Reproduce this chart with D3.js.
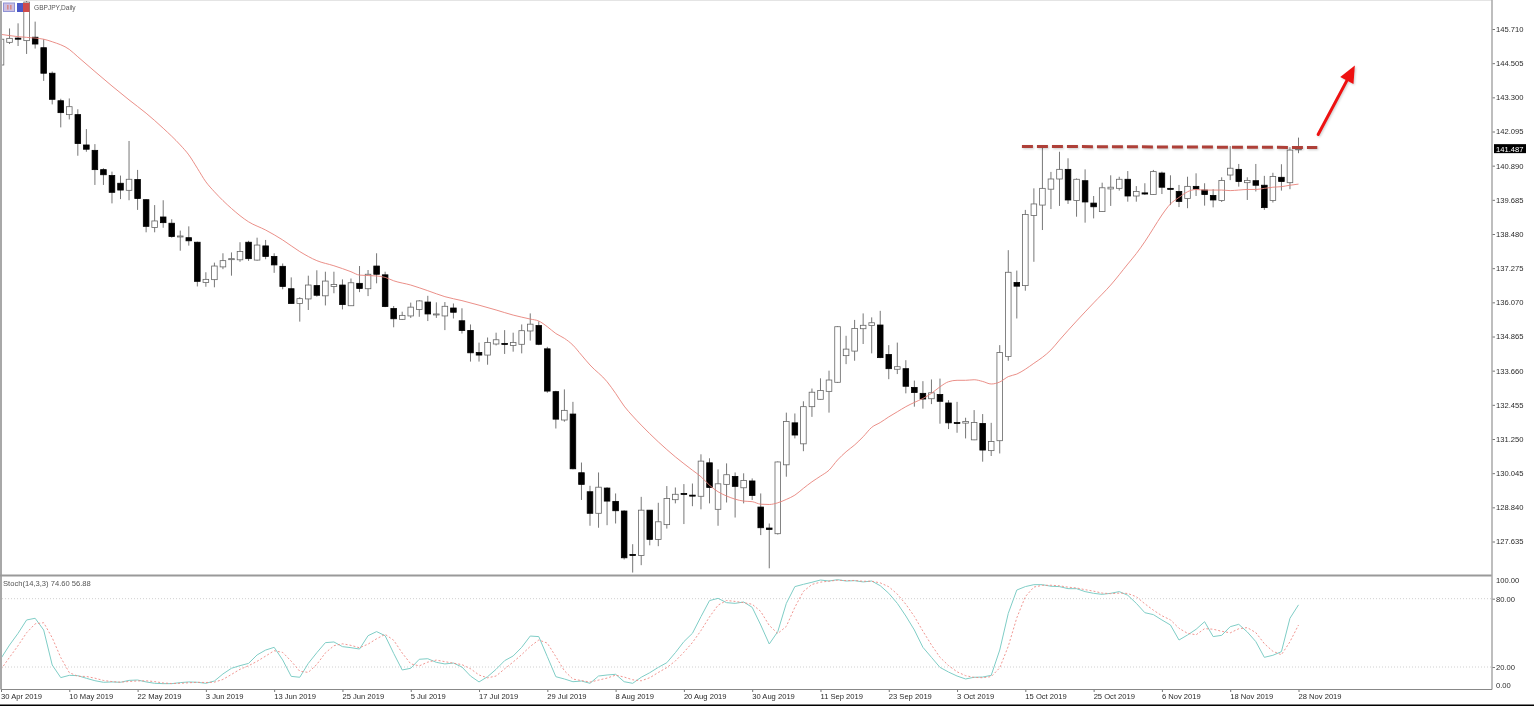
<!DOCTYPE html>
<html>
<head>
<meta charset="utf-8">
<title>GBPJPY,Daily</title>
<script src="https://cdn.jsdelivr.net/npm/d3@7"></script>
<style>
    html, body { margin: 0; padding: 0; background: #fff; overflow: hidden; }
    svg { display: block; filter: blur(0.35px); }
    text { font-family: "Liberation Sans", sans-serif; font-size: 7.6px; fill: #2a2a2a; }
</style>
</head>
<body>
<div id="chart"></div>
<script>
// Candles, one value per bar
const highs = [
    145.35,145.73,145.91,146.90,145.97,145.35,144.21,143.25,143.26,142.88,
    142.18,141.65,140.80,140.68,140.54,141.76,140.74,139.71,139.50,139.67,
    139.00,138.60,138.75,138.21,137.13,137.47,137.80,137.83,138.19,138.24,
    138.35,138.27,137.80,137.44,136.95,136.25,137.01,137.20,137.15,137.15,
    136.88,136.91,137.35,137.21,137.80,137.15,135.94,135.74,136.06,136.15,
    136.30,136.07,136.08,136.03,135.86,135.29,134.65,134.83,135.00,135.09,
    135.00,135.29,135.68,135.40,134.50,132.95,133.00,132.56,130.42,129.60,
    130.07,129.55,129.33,128.74,127.54,129.21,128.74,129.00,129.59,129.54,
    129.66,129.68,130.71,130.57,130.18,130.39,130.07,130.04,129.86,129.33,
    128.27,130.46,132.18,132.15,132.58,133.03,133.39,133.66,135.23,134.89,
    135.45,135.68,135.54,135.77,134.56,134.65,134.03,133.31,133.29,133.35,
    133.38,132.62,132.56,132.00,132.27,132.13,131.82,134.56,137.91,137.19,
    139.33,140.09,141.58,140.67,141.38,141.15,140.44,140.76,139.82,140.29,
    140.55,140.50,140.70,140.17,140.27,140.74,140.68,140.55,140.21,140.50,
    140.62,140.27,140.06,140.48,141.58,140.95,140.48,140.95,140.53,140.64,
    140.94,141.54,141.88
];
const lows = [
    144.44,145.18,145.11,144.83,145.02,143.88,143.05,142.24,142.52,141.24,
    141.38,140.21,140.21,139.56,139.71,139.67,139.33,138.54,138.54,138.70,
    138.35,137.89,138.07,136.63,136.62,136.60,137.24,137.01,137.50,137.53,
    137.54,137.59,137.11,136.53,136.03,135.39,135.80,136.27,135.96,136.39,
    135.82,135.94,136.43,136.29,136.74,135.90,135.19,135.45,135.52,135.56,
    135.41,135.52,135.09,135.50,134.97,133.98,133.98,133.87,134.55,134.25,
    134.33,134.27,134.72,134.56,132.88,131.62,131.86,130.18,129.10,128.19,
    128.12,128.21,128.27,127.00,126.54,126.80,127.50,127.47,128.09,128.98,
    128.25,128.88,128.77,128.98,128.19,129.01,128.48,128.98,129.10,127.86,
    126.69,127.88,129.92,131.27,130.82,132.03,132.64,132.18,133.23,133.89,
    134.01,134.60,134.27,134.10,133.36,133.54,132.86,132.39,132.32,132.48,
    131.79,131.60,131.47,131.27,131.21,130.45,130.65,130.74,134.01,135.50,
    136.48,137.50,138.62,139.36,139.47,139.54,139.09,138.88,139.03,139.26,
    139.47,140.01,139.62,139.62,139.86,139.86,139.89,139.50,139.43,139.39,
    139.82,139.48,139.42,139.61,140.38,140.15,139.68,139.98,139.33,139.59,
    140.01,140.06,141.33
];
const opens = [
    144.44,145.24,145.39,145.30,145.42,145.05,144.15,143.18,142.69,142.69,
    141.62,141.43,140.75,140.54,140.27,140.02,140.40,139.69,138.71,139.08,
    138.86,138.39,138.35,138.19,136.77,136.87,137.32,137.59,137.57,138.19,
    137.56,138.06,137.69,137.34,136.55,136.03,136.19,136.66,136.30,136.63,
    136.68,135.95,136.74,136.55,137.35,137.04,135.85,135.47,135.59,135.82,
    136.08,135.63,135.59,135.87,135.42,135.08,134.30,134.21,134.60,134.62,
    134.55,134.59,135.06,135.25,134.43,132.92,131.92,132.13,130.06,129.39,
    128.63,129.52,129.05,128.71,127.18,127.14,128.74,127.71,128.23,129.11,
    129.33,129.27,129.23,130.41,128.77,129.65,129.93,129.53,129.77,128.85,
    128.11,127.91,130.34,131.82,131.08,132.39,132.65,132.93,133.25,134.19,
    134.35,135.14,135.25,135.27,134.23,133.71,133.73,133.07,132.86,132.67,
    132.82,132.52,131.83,131.81,131.22,131.80,130.84,131.19,134.16,136.77,
    136.66,139.13,139.50,140.06,140.42,140.76,139.66,140.36,139.57,139.27,
    140.07,140.09,140.41,139.82,139.93,139.87,140.63,140.09,139.98,139.73,
    140.16,140.03,139.84,139.66,140.56,140.76,140.29,140.36,140.20,139.66,
    140.48,140.29,141.45
];
const closes = [
    145.35,145.38,145.35,146.66,145.18,144.15,143.23,142.76,142.97,141.67,
    141.47,140.75,140.57,139.95,140.03,140.41,139.73,138.75,138.94,138.88,
    138.39,138.41,138.24,136.81,136.88,137.35,137.54,137.61,137.86,137.61,
    138.09,137.69,137.39,136.63,136.03,136.20,136.68,136.32,136.82,136.70,
    135.99,136.76,136.56,137.06,137.06,135.92,135.49,135.61,135.90,136.12,
    135.66,135.66,135.93,135.72,135.08,134.29,134.21,134.65,134.75,134.59,
    134.65,135.07,135.30,134.59,132.94,131.95,132.26,130.20,129.65,128.63,
    129.55,129.06,128.72,127.06,127.14,128.74,127.71,128.33,129.15,129.30,
    129.30,129.24,130.47,129.54,129.67,129.99,129.58,129.79,129.26,128.12,
    128.06,130.44,131.87,131.39,132.39,132.90,132.96,133.33,135.21,134.42,
    135.15,135.26,135.35,134.12,133.73,133.80,133.11,132.89,132.66,132.88,
    132.58,131.82,131.80,131.87,131.83,130.86,131.16,134.30,137.13,136.64,
    139.17,139.54,140.09,140.42,140.76,139.68,140.41,139.61,139.44,140.11,
    140.13,140.41,139.82,139.98,139.89,140.68,140.13,140.07,139.63,140.16,
    140.07,139.87,139.68,140.37,140.80,140.33,140.37,140.20,139.41,140.51,
    140.33,141.44,141.487
];

// Moving average, read at the bars where the curve is easy to read
const maBars = [
    0,2,4,5,6,8,9,11,13,15,17,19,21,22,23,24,25,27,29,31,33,35,37,39,41,42,44,
    45,46,48,50,52,54,56,58,60,62,63,64,65,66,67,68,69,71,72,73,74,75,77,79,81,82,83,84,85,87,88,89,90,91,
    92,93,94,95,96,97,98,99,100,101,102,103,104,105,106,107,108,109,110,111,112,113,114,115,116,117,118,119,120,121,122,123,124,
    126,128,130,132,133,134,135,136,137,138,139,140,141,142,143,144,145,146,147,148,149,150,151,152
];
const maValues = [
    145.52,145.44,145.39,145.35,145.26,144.99,144.73,144.21,143.70,143.21,142.74,142.21,141.62,141.27,140.80,140.32,139.97,139.38,138.91,138.62,138.27,137.86,137.54,137.36,137.15,137.03,137.00,
    136.95,136.83,136.68,136.48,136.27,136.13,135.97,135.80,135.62,135.48,135.41,135.21,134.97,134.80,134.56,134.21,133.86,133.27,132.86,132.41,132.06,131.74,131.15,130.62,130.15,129.92,129.62,129.39,129.24,129.06,129.04,128.95,128.94,129.00,
    129.12,129.27,129.51,129.74,129.94,130.15,130.51,130.80,131.04,131.33,131.66,131.83,132.03,132.21,132.39,132.54,132.68,132.86,133.09,133.27,133.32,133.32,133.34,133.28,133.19,133.26,133.45,133.54,133.71,133.92,134.13,134.39,134.74,
    135.41,136.05,136.68,137.42,137.79,138.21,138.68,139.15,139.54,139.77,139.97,140.05,140.03,140.03,140.03,140.01,140.03,140.05,140.05,140.09,140.13,140.15,140.20,140.24
];

// Stochastic main and signal lines
const stochMain = [
    27.6,39.3,49.6,61.3,62.8,52.5,21.8,10.7,12.7,12.4,10.1,8.0,6.6,6.9,6.6,8.3,8.6,6.9,5.7,5.4,
    5.4,6.3,6.9,6.6,5.7,7.7,13.9,18.9,21.2,23.2,30.6,34.9,37.3,26.2,11.8,11.0,23.2,32.6,41.4,42.0,
    37.9,37.0,35.8,47.5,51.1,47.5,32.0,17.4,18.9,26.8,27.3,24.1,22.7,23.5,20.0,12.1,6.9,11.5,18.0,
    25.6,29.7,37.3,47.2,46.7,29.1,11.5,9.5,7.1,7.7,5.7,12.1,13.0,13.6,7.1,5.7,11.0,15.0,19.7,23.8,
    32.6,42.3,49.6,64.2,78.3,80.3,76.5,75.9,77.1,72.4,56.9,40.2,51.1,75.9,90.6,92.6,94.4,96.4,95.5,96.7,
    95.5,95.8,94.7,95.5,91.4,84.7,75.9,64.8,52.5,37.3,28.5,19.7,15.6,12.1,9.5,11.0,11.2,12.7,34.9,
    67.1,87.6,90.6,92.3,92.3,90.9,90.6,88.8,88.8,86.2,84.7,83.8,84.7,86.2,83.0,75.9,67.7,66.0,61.3,56.9,
    43.7,48.1,53.1,59.8,46.7,47.8,55.4,57.5,50.8,42.3,28.5,30.3,33.5,62.8,74.6
];
const stochSignal = [
    18.0,28.5,38.8,50.1,57.9,58.9,45.7,28.3,15.1,11.9,11.7,10.2,8.2,7.2,6.7,7.3,7.8,7.9,7.2,6.0,
    5.5,5.7,6.2,6.6,6.4,6.7,9.1,13.5,18.0,21.1,25.0,29.6,34.3,32.8,25.1,16.3,15.3,22.3,32.4,38.7,
    40.4,39.0,36.9,40.1,44.8,48.7,43.5,32.3,22.8,21.0,24.3,26.1,24.7,23.4,22.1,18.5,13.0,10.5,12.1,
    18.4,24.4,30.9,38.1,43.7,41.0,29.1,16.7,9.4,8.1,6.8,8.5,10.3,12.9,11.2,8.8,7.9,10.6,15.2,19.5,
    25.3,33.0,41.5,52.0,64.0,74.3,78.4,77.6,76.5,75.1,68.8,56.5,49.4,55.7,72.5,86.4,92.5,94.5,95.4,96.2,
    95.9,96.0,95.3,95.3,93.9,90.5,84.0,75.1,64.4,51.5,39.4,28.5,21.3,15.8,12.4,10.9,10.6,11.6,19.3,
    38.2,63.2,81.8,90.2,91.7,91.8,91.3,90.1,89.4,87.9,86.6,84.9,84.4,84.9,84.6,81.7,75.5,69.9,65.0,61.4,
    54.0,49.6,48.3,53.7,53.2,51.4,50.0,53.6,54.6,50.2,40.5,33.8,30.8,42.2,56.88
];

// Axis labels
const dateBars = [0,8,16,24,32,40,48,56,64,72,80,88,96,104,112,120,128,136,144,152];
const dateLabels = [
    '30 Apr 2019','10 May 2019','22 May 2019','3 Jun 2019','13 Jun 2019','25 Jun 2019','5 Jul 2019',
    '17 Jul 2019','29 Jul 2019','8 Aug 2019','20 Aug 2019','30 Aug 2019','11 Sep 2019','23 Sep 2019',
    '3 Oct 2019','15 Oct 2019','25 Oct 2019','6 Nov 2019','18 Nov 2019','28 Nov 2019'
];
const priceTicks = [145.71,144.505,143.3,142.095,140.89,139.685,138.48,137.275,136.07,134.865,133.66,132.455,131.25,130.045,128.84,127.635];
const stochTicks = [100,80,20,0];
const stochLevels = [80,20];
const lastPrice = 141.487;

// Hand drawn annotations, in bar and price units
const resistanceBars = [119.6,154.2];
const resistancePrices = [141.57,141.53];
const arrowBars = [154.3,158.6];
const arrowPrices = [141.99,144.42];

const width = 1534;
const height = 706;
const axisX = 1492;
const mainBottom = 575.5;
const stochBottom = 689.5;
const bodyWidth = 5.6;
const axisColor = '#a8a8a8';

const bars = d3.range(closes.length);

const x = d3.scaleLinear().domain([0, 152]).range([1, 1298.5]);
const yPrice = d3.scaleLinear().domain([145.71, 127.635]).range([29, 541.5]);
const yStoch = d3.scaleLinear().domain([0, 100]).range([689.8, 575.9]);

const svg = d3.select('#chart')
    .append('svg')
    .attr('width', width)
    .attr('height', height);

svg.append('clipPath').attr('id', 'mainClip')
    .append('rect').attr('x', 2).attr('y', 0).attr('width', axisX - 2).attr('height', mainBottom);

// Candles
const candles = svg.append('g').attr('clip-path', 'url(#mainClip)');

candles.selectAll('.wick')
    .data(bars)
    .enter()
    .append('line')
    .attr('class', 'wick')
    .attr('x1', i => x(i))
    .attr('x2', i => x(i))
    .attr('y1', i => yPrice(highs[i]))
    .attr('y2', i => yPrice(lows[i]))
    .attr('stroke', '#777')
    .attr('stroke-width', 1);

candles.selectAll('.body')
    .data(bars)
    .enter()
    .append('rect')
    .attr('class', 'body')
    .attr('x', i => x(i) - bodyWidth / 2)
    .attr('width', bodyWidth)
    .attr('y', i => yPrice(Math.max(opens[i], closes[i])))
    .attr('height', i => Math.max(1, yPrice(Math.min(opens[i], closes[i])) - yPrice(Math.max(opens[i], closes[i]))))
    .attr('fill', i => closes[i] >= opens[i] ? '#fff' : '#000')
    .attr('stroke', i => closes[i] >= opens[i] ? '#666' : '#000')
    .attr('stroke-width', 0.8);

// Moving average
const maLine = d3.line()
    .x((d, k) => x(maBars[k]))
    .y(d => yPrice(d))
    .curve(d3.curveMonotoneX);

candles.append('path')
    .attr('d', maLine(maValues))
    .attr('fill', 'none')
    .attr('stroke', '#e8827a')
    .attr('stroke-width', 0.9);

// Header icons sit over the candles
const icons = svg.append('g');
icons.append('rect').attr('x', 3.5).attr('y', 3).attr('width', 11).attr('height', 8.5)
    .attr('fill', '#cdbfe0').attr('stroke', '#8f93d6');
icons.append('rect').attr('x', 7).attr('y', 5).attr('width', 1.6).attr('height', 4.5).attr('fill', '#d98a8a');
icons.append('rect').attr('x', 10).attr('y', 5).attr('width', 1.6).attr('height', 4.5).attr('fill', '#d98a8a');
icons.append('rect').attr('x', 17).attr('y', 3).attr('width', 6).attr('height', 9).attr('fill', '#4a58c8');
icons.append('rect').attr('x', 23).attr('y', 3).attr('width', 6.5).attr('height', 9).attr('fill', '#cf4a4a');

// Stochastic levels and lines
svg.selectAll('.level')
    .data(stochLevels)
    .enter()
    .append('line')
    .attr('class', 'level')
    .attr('x1', 2)
    .attr('x2', axisX)
    .attr('y1', d => yStoch(d))
    .attr('y2', d => yStoch(d))
    .attr('stroke', '#c4c4c4')
    .attr('stroke-width', 0.8)
    .attr('stroke-dasharray', '1,2');

const stochLine = d3.line()
    .x((d, i) => x(i))
    .y(d => yStoch(d));

svg.append('path')
    .attr('d', stochLine(stochMain))
    .attr('fill', 'none')
    .attr('stroke', '#7fcdc6')
    .attr('stroke-width', 1);

svg.append('path')
    .attr('d', stochLine(stochSignal))
    .attr('fill', 'none')
    .attr('stroke', '#ee8a84')
    .attr('stroke-width', 0.9)
    .attr('stroke-dasharray', '2,2');

// Frame
svg.append('line').attr('x1', 1).attr('x2', 1).attr('y1', 0).attr('y2', stochBottom)
    .attr('stroke', axisColor).attr('stroke-width', 2);
svg.append('line').attr('x1', 0).attr('x2', axisX).attr('y1', 0.5).attr('y2', 0.5)
    .attr('stroke', '#e4e4e4').attr('stroke-width', 1);
svg.append('line').attr('x1', 0).attr('x2', axisX).attr('y1', mainBottom).attr('y2', mainBottom)
    .attr('stroke', '#999').attr('stroke-width', 2);

// Axes
const priceAxis = svg.append('g')
    .attr('transform', `translate(${axisX},0)`)
    .call(d3.axisRight(yPrice).tickValues(priceTicks).tickFormat(d3.format('.3f')).tickSize(3).tickPadding(1));
priceAxis.select('.domain').remove();
priceAxis.selectAll('line').attr('stroke', '#777');

const stochAxis = svg.append('g')
    .attr('transform', `translate(${axisX},0)`)
    .call(d3.axisRight(yStoch).tickValues(stochTicks).tickFormat(d3.format('.2f')).tickSize(3).tickPadding(1));
stochAxis.select('.domain').remove();
stochAxis.selectAll('line').attr('stroke', '#777')
    .filter(d => d === 100 || d === 0).remove();
stochAxis.selectAll('text')
    .attr('transform', d => d === 100 ? 'translate(0,4)' : d === 0 ? 'translate(0,-4.8)' : null);

svg.append('line').attr('x1', axisX).attr('x2', axisX).attr('y1', 0).attr('y2', stochBottom)
    .attr('stroke', axisColor).attr('stroke-width', 1.5);

const dateAxis = svg.append('g')
    .attr('transform', `translate(0,${stochBottom})`)
    .call(d3.axisBottom(x).tickValues(dateBars).tickFormat(i => dateLabels[dateBars.indexOf(i)]).tickSize(2.5).tickPadding(2));
dateAxis.select('.domain').remove();
dateAxis.selectAll('line').attr('stroke', '#777');
dateAxis.selectAll('text').attr('text-anchor', 'start').attr('dx', -0.5);

svg.append('line').attr('x1', 1).attr('x2', axisX).attr('y1', stochBottom).attr('y2', stochBottom)
    .attr('stroke', '#888').attr('stroke-width', 1);

// Last price tag
svg.append('rect')
    .attr('x', axisX + 2)
    .attr('y', yPrice(lastPrice) - 4.6)
    .attr('width', 32)
    .attr('height', 9)
    .attr('fill', '#000');
svg.append('text')
    .attr('x', axisX + 4)
    .attr('y', yPrice(lastPrice) + 2.8)
    .style('fill', '#fff')
    .text(d3.format('.3f')(lastPrice));

// Titles
svg.append('text').attr('x', 34).attr('y', 10).style('fill', '#555').style('font-size', '6.6px').text('GBPJPY,Daily');
svg.append('text').attr('x', 3).attr('y', 585.5).style('fill', '#555').text('Stoch(14,3,3) 74.60 56.88');

// Resistance line and arrow
const marks = svg.append('g').style('filter', 'drop-shadow(1px 1px 1px rgba(0,0,0,0.2))');

marks.append('line')
    .attr('x1', x(resistanceBars[0]))
    .attr('x2', x(resistanceBars[1]))
    .attr('y1', yPrice(resistancePrices[0]))
    .attr('y2', yPrice(resistancePrices[1]))
    .attr('stroke', '#ae4038')
    .attr('stroke-width', 3)
    .attr('stroke-dasharray', '11,4');

const ax0 = x(arrowBars[0]), ay0 = yPrice(arrowPrices[0]);
const ax1 = x(arrowBars[1]), ay1 = yPrice(arrowPrices[1]);
const angle = Math.atan2(ay1 - ay0, ax1 - ax0);
const headLength = 17;
const headHalf = 7.5;
const baseX = ax1 - headLength * Math.cos(angle);
const baseY = ay1 - headLength * Math.sin(angle);

marks.append('line')
    .attr('x1', ax0).attr('y1', ay0)
    .attr('x2', baseX).attr('y2', baseY)
    .attr('stroke', '#ee1111')
    .attr('stroke-width', 3)
    .attr('stroke-linecap', 'round');

marks.append('polygon')
    .attr('points', [
        [ax1, ay1],
        [baseX - headHalf * Math.sin(angle), baseY + headHalf * Math.cos(angle)],
        [baseX + headHalf * Math.sin(angle), baseY - headHalf * Math.cos(angle)]
    ].join(' '))
    .attr('fill', '#ee1111');

// Screenshot edge at the bottom
svg.append('rect').attr('x', 0).attr('y', 704.5).attr('width', width).attr('height', 1.5).attr('fill', '#000');
</script>
</body>
</html>
